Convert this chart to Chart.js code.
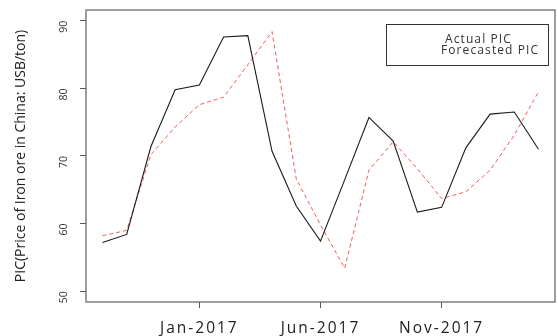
<!DOCTYPE html>
<html>
<head>
<meta charset="utf-8">
<script src="https://cdn.jsdelivr.net/npm/chart.js@4.4.1/dist/chart.umd.min.js"></script>
<style>
  html, body { margin: 0; padding: 0; background: #fff; }
  #wrap { width: 558px; height: 336px; }
</style>
</head>
<body>
<div id="wrap"><canvas id="c" width="558" height="336"></canvas></div>
<script>
// Monthly iron ore price in China, Sep-2016 .. Mar-2018
const months = ["Sep-2016","Oct-2016","Nov-2016","Dec-2016","Jan-2017","Feb-2017","Mar-2017",
  "Apr-2017","May-2017","Jun-2017","Jul-2017","Aug-2017","Sep-2017","Oct-2017","Nov-2017",
  "Dec-2017","Jan-2018","Feb-2018","Mar-2018"];
const actualPIC = [57.2, 58.4, 71.4, 79.8, 80.5, 87.6, 87.8, 70.7, 62.6, 57.4, 66.5, 75.7,
  72.2, 61.7, 62.4, 71.2, 76.2, 76.5, 71.0];
const forecastPIC = [58.2, 59.0, 70.2, 74.3, 77.6, 78.7, 83.5, 88.4, 66.6, 59.8, 53.4, 67.9,
  72.1, 68.1, 63.7, 64.7, 67.9, 73.1, 79.5];
const xTickLabels = ["Jan-2017", "Jun-2017", "Nov-2017"];
const yTickValues = [50, 60, 70, 80, 90];
const legendLabels = ["Actual PIC", "Forecasted PIC"];

const FONT = "'Open Sans', 'Noto Sans', sans-serif";

const toPoints = arr => arr.map((v, i) => ({ x: i, y: v }));

// frame around the plotting region plus a text-only legend box
const framePlugin = {
  id: 'frame',
  afterDraw(chart) {
    const { ctx, chartArea: a } = chart;
    ctx.save();
    ctx.strokeStyle = '#6b6b6b';
    ctx.lineWidth = 1.3;
    ctx.strokeRect(a.left, a.top, a.right - a.left, a.bottom - a.top);
    // legend
    const lx = 386.5, ly = 24.5, lw = 162, lh = 41;
    ctx.strokeStyle = '#333';
    ctx.lineWidth = 1;
    ctx.strokeRect(lx, ly, lw, lh);
    ctx.fillStyle = '#333';
    ctx.font = "12px " + FONT;
    ctx.letterSpacing = '1.1px';
    ctx.textBaseline = 'middle';
    ctx.textAlign = 'left';
    ctx.fillText(legendLabels[0], 445, 40);
    ctx.fillText(legendLabels[1], 441, 51);
    ctx.restore();
  }
};

// widen the spacing of the month labels under the x axis
function spacedLabels(scale) {
  if (scale._spaced) return;
  const draw = scale.drawLabels.bind(scale);
  scale.drawLabels = function (area) {
    const c = this.ctx;
    const prev = c.letterSpacing;
    c.letterSpacing = '2px';
    draw(area);
    c.letterSpacing = prev;
  };
  scale._spaced = true;
}

new Chart(document.getElementById('c'), {
  type: 'line',
  data: {
    datasets: [
      {
        label: legendLabels[0],
        data: toPoints(actualPIC),
        borderColor: '#1a1a1a',
        borderWidth: 1.1,
        pointRadius: 0,
        tension: 0,
        fill: false
      },
      {
        label: legendLabels[1],
        data: toPoints(forecastPIC),
        borderColor: 'rgba(240,50,50,0.8)',
        borderWidth: 1,
        borderDash: [4, 3],
        pointRadius: 0,
        tension: 0,
        fill: false
      }
    ]
  },
  options: {
    responsive: false,
    animation: false,
    layout: { padding: { left: 0, right: 3, top: 10, bottom: 0 } },
    plugins: { legend: { display: false }, tooltip: { enabled: false } },
    scales: {
      x: {
        type: 'linear',
        min: -0.68,
        max: 18.68,
        afterBuildTicks(scale) {
          scale.ticks = xTickLabels.map(l => ({ value: months.indexOf(l) }));
        },
        afterFit(scale) {
          scale.height = 34;
          scale.paddingLeft = 0;
          scale.paddingRight = 0;
        },
        afterUpdate: spacedLabels,
        grid: { drawOnChartArea: false, tickLength: 6, color: '#555', tickColor: '#555' },
        border: { display: false },
        ticks: {
          maxRotation: 0,
          minRotation: 0,
          padding: 11,
          color: '#222',
          font: { family: FONT, size: 15.5 },
          callback: v => months[v]
        }
      },
      y: {
        min: 48.4,
        max: 91.6,
        afterBuildTicks(scale) {
          scale.ticks = yTickValues.map(v => ({ value: v }));
        },
        afterFit(scale) {
          scale.width = 86;
          scale.paddingTop = 0;
          scale.paddingBottom = 0;
        },
        grid: { drawOnChartArea: false, tickLength: 6, color: '#555', tickColor: '#555' },
        border: { display: false },
        title: {
          display: true,
          text: 'PIC(Price of Iron ore in China: USB/ton)',
          color: '#222',
          font: { family: FONT, size: 14 },
          padding: { top: 13, bottom: 10 }
        },
        ticks: {
          minRotation: 90,
          maxRotation: 90,
          padding: 16,
          color: '#333',
          font: { family: FONT, size: 10.5 }
        }
      }
    }
  },
  plugins: [framePlugin]
});
</script>
</body>
</html>
